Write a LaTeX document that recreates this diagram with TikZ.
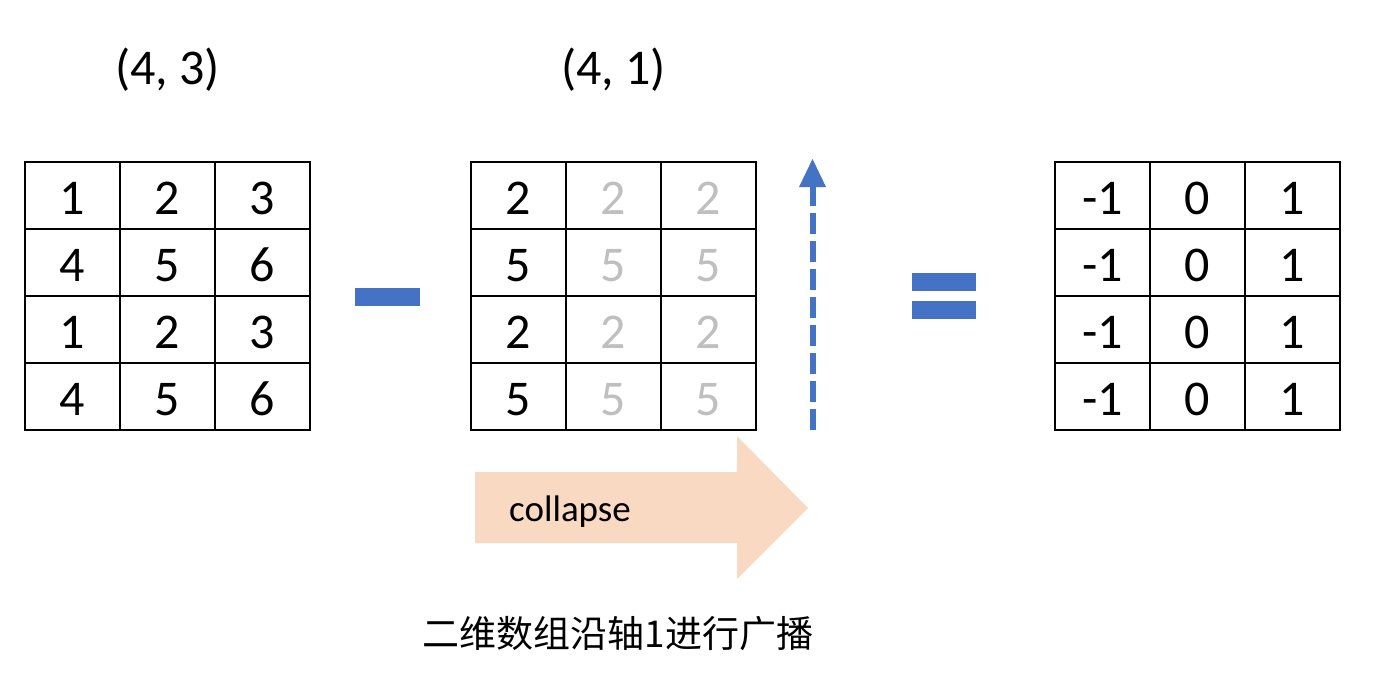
\documentclass[tikz,border=0pt]{standalone}
\usepackage{fontspec}
\setmainfont{Carlito}
\newfontfamily\cjk{Noto Sans CJK SC}
\definecolor{opblue}{HTML}{4472C4}
\definecolor{peach}{HTML}{F9D9C2}
\definecolor{ghost}{HTML}{BFBFBF}
\begin{document}
\begin{tikzpicture}[x=1pt,y=-1pt,
  cell/.style={draw=black,line width=1.3pt,minimum width=95pt,minimum height=67pt,inner sep=0pt,
    font=\fontsize{50}{52}\selectfont,text depth=0pt,text height=37pt},
  ghostcell/.style={cell,text=ghost},
  title/.style={font=\fontsize{50}{52}\selectfont,inner sep=0pt},
  opbar/.style={fill=opblue,draw=none}]
\useasboundingbox (0,0) rectangle (1396,687);
% titles
\node[title] (t1) at (167.5,70) {(4, 3)};
\node[title] (t2) at (613.5,70) {(4, 1)};
% matrix 1
\foreach \r/\a/\b/\c in {0/1/2/3,1/4/5/6,2/1/2/3,3/4/5/6}{
  \node[cell] (a\r0) at (72.5,195.5+67*\r) {\a};
  \node[cell] (a\r1) at (167.5,195.5+67*\r) {\b};
  \node[cell] (a\r2) at (262.5,195.5+67*\r) {\c};
}
% minus
\fill[opbar] (355,288) rectangle (420,306);
% matrix 2
\foreach \r/\a in {0/2,1/5,2/2,3/5}{
  \node[cell] (b\r0) at (518.5,195.5+67*\r) {\a};
  \node[ghostcell] (b\r1) at (613.5,195.5+67*\r) {\a};
  \node[ghostcell] (b\r2) at (708.5,195.5+67*\r) {\a};
}
% dashed upward arrow
\coordinate (up0) at (812.5,430);
\coordinate (up1) at (812.5,186);
\draw[opblue,line width=6pt,dash pattern=on 21pt off 7pt] (up0) -- (up1);
\fill[opblue] (799,187) -- (812.5,159) -- (826,187) -- cycle;
% equals
\fill[opbar] (912,273) rectangle (976,291);
\fill[opbar] (912,301) rectangle (976,319);
% matrix 3
\foreach \r in {0,1,2,3}{
  \node[cell] (c\r0) at (1102.5,195.5+67*\r) {-1};
  \node[cell] (c\r1) at (1197.5,195.5+67*\r) {0};
  \node[cell] (c\r2) at (1292.5,195.5+67*\r) {1};
}
% collapse arrow
\fill[peach] (475,472) -- (737,472) -- (737,436) -- (808,508) -- (737,579) -- (737,543) -- (475,543) -- cycle;
\node[anchor=base west,inner sep=0pt,font=\fontsize{37}{40}\selectfont] (col) at (509,521) {collapse};
% caption
\node[inner sep=0pt,font=\cjk\fontsize{37}{40}\selectfont] (cap) at (618,634) {二维数组沿轴1进行广播};
\end{tikzpicture}
\end{document}
